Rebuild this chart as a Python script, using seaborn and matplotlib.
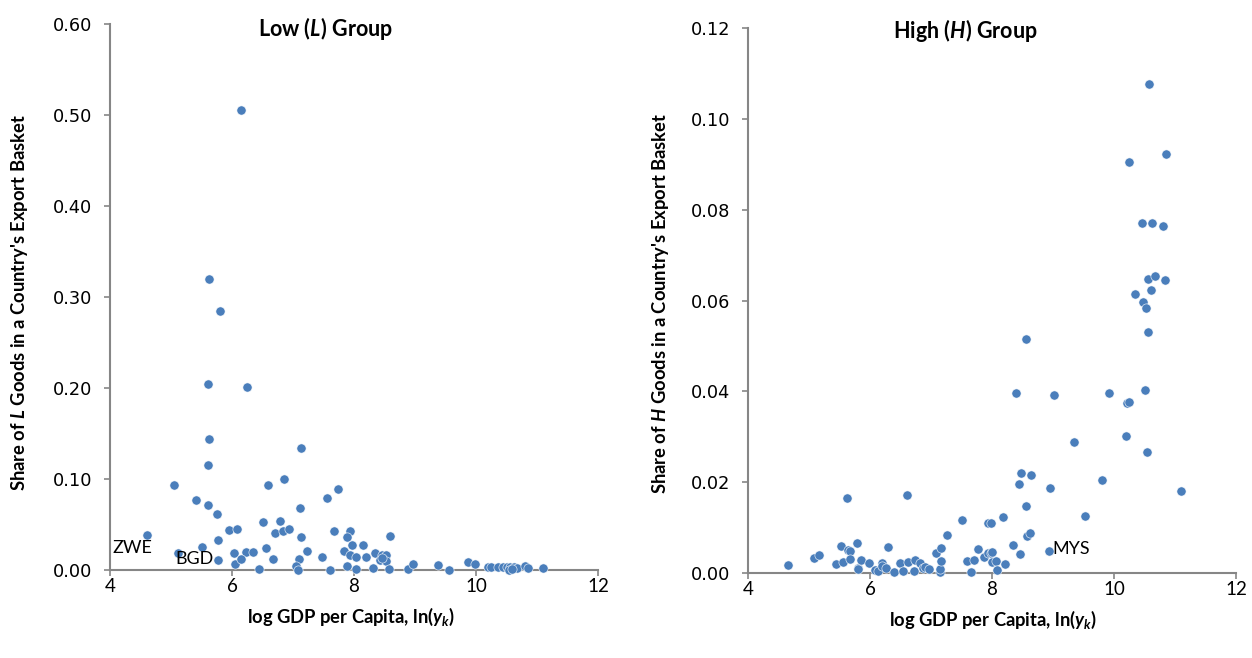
import matplotlib
matplotlib.use("Agg")
import matplotlib.pyplot as plt
import seaborn as sns

# Low (L) group: log GDP per capita vs share of L goods
low_gdp = [6.15, 5.63, 5.81, 5.60, 6.25, 5.63, 5.60, 7.13, 5.05, 6.59,
           6.85, 5.41, 5.60, 5.75, 7.55, 7.73, 7.11, 4.61, 6.50, 6.79,
           5.95, 6.09, 6.70, 6.83, 6.93, 7.67, 7.93, 7.89, 8.59, 5.77,
           7.13, 5.50, 5.11, 6.03, 6.23, 6.35, 6.56, 7.23, 7.84, 7.96,
           8.14, 7.93, 8.03, 8.19, 8.35, 8.46, 8.52, 8.43, 8.52, 8.46,
           5.77, 6.05, 6.15, 6.68, 7.10, 7.47, 6.45, 7.05, 7.09, 7.61,
           7.89, 8.04, 8.31, 8.58, 8.89, 8.97, 9.37, 9.56, 9.87, 9.98,
           10.19, 10.24, 10.36, 10.45, 10.51, 10.56, 10.62, 10.67, 10.54, 10.59,
           10.81, 10.85, 11.10]
low_share = [0.505, 0.320, 0.285, 0.204, 0.201, 0.144, 0.115, 0.134, 0.093, 0.093,
             0.100, 0.077, 0.071, 0.062, 0.079, 0.089, 0.068, 0.039, 0.053, 0.054,
             0.044, 0.045, 0.041, 0.043, 0.045, 0.043, 0.043, 0.036, 0.037, 0.033,
             0.036, 0.025, 0.019, 0.019, 0.020, 0.020, 0.024, 0.021, 0.021, 0.027,
             0.027, 0.017, 0.014, 0.014, 0.019, 0.016, 0.017, 0.011, 0.010, 0.013,
             0.011, 0.007, 0.012, 0.012, 0.012, 0.014, 0.001, 0.004, 0.000, 0.000,
             0.004, 0.001, 0.002, 0.001, 0.001, 0.007, 0.005, 0.000, 0.009, 0.007,
             0.003, 0.003, 0.003, 0.003, 0.003, 0.003, 0.003, 0.002, 0.000, 0.001,
             0.004, 0.002, 0.002]

# High (H) group: log GDP per capita vs share of H goods
high_gdp = [4.65, 5.08, 5.16, 5.52, 5.45, 5.55, 5.63, 5.64, 5.67, 5.68,
            5.79, 5.81, 5.81, 5.85, 5.99, 6.08, 6.13, 6.19, 6.20, 6.26,
            6.30, 6.39, 6.49, 6.54, 6.60, 6.63, 6.72, 6.74, 6.82, 6.87,
            6.90, 6.97, 7.14, 7.15, 7.09, 7.17, 7.16, 7.27, 7.51, 7.59,
            7.65, 7.70, 7.77, 7.87, 7.94, 7.98, 7.94, 7.98, 8.00, 8.00,
            8.07, 8.08, 8.18, 8.22, 8.35, 8.39, 8.48, 8.45, 8.46, 8.64,
            8.95, 9.81, 11.10, 8.55, 9.52, 8.57, 8.62, 8.93, 9.02, 9.91,
            10.21, 10.25, 10.50, 9.34, 10.19, 10.54, 10.57, 10.24, 10.85, 10.46,
            10.63, 10.81, 10.55, 10.67, 10.83, 10.35, 10.60, 10.47, 10.52, 10.56,
            8.55]
high_share = [0.0017, 0.0034, 0.0040, 0.0060, 0.0019, 0.0025, 0.0166, 0.0051, 0.0049, 0.0031,
              0.0065, 0.0012, 0.0008, 0.0028, 0.0021, 0.0006, 0.0004, 0.0023, 0.0016, 0.0010,
              0.0057, 0.0002, 0.0023, 0.0004, 0.0172, 0.0024, 0.0004, 0.0028, 0.0023, 0.0010,
              0.0014, 0.0008, 0.0003, 0.0008, 0.0043, 0.0056, 0.0026, 0.0084, 0.0117, 0.0027,
              0.0003, 0.0029, 0.0053, 0.0036, 0.0043, 0.0044, 0.0111, 0.0110, 0.0047, 0.0025,
              0.0027, 0.0007, 0.0123, 0.0019, 0.0062, 0.0396, 0.0220, 0.0195, 0.0041, 0.0216,
              0.0188, 0.0205, 0.0180, 0.0148, 0.0126, 0.0082, 0.0087, 0.0048, 0.0393, 0.0396,
              0.0374, 0.0376, 0.0402, 0.0288, 0.0301, 0.0266, 0.1077, 0.0905, 0.0922, 0.0771,
              0.0771, 0.0765, 0.0648, 0.0654, 0.0646, 0.0614, 0.0623, 0.0597, 0.0583, 0.0530,
              0.0516]

# labelled countries: (name, x, y)
low_labels = [("ZWE", 4.61, 0.039), ("BGD", 5.11, 0.019)]
high_labels = [("MYS", 8.93, 0.0048)]

sns.set_style("white")
plt.rcParams["font.family"] = ["DejaVu Sans"]
plt.rcParams["text.color"] = "black"
plt.rcParams["mathtext.fontset"] = "custom"
plt.rcParams["mathtext.it"] = "Lato:italic:bold"
plt.rcParams["mathtext.rm"] = "Lato:bold"
plt.rcParams["mathtext.bf"] = "Lato:bold"

DOT = "#4A7EBB"
AXIS = "#868686"

fig = plt.figure(figsize=(12.52, 6.58), dpi=100)
ax_l = fig.add_axes([110 / 1252, 1 - 570 / 658, 488 / 1252, 546 / 658])
ax_r = fig.add_axes([748 / 1252, 1 - 573 / 658, 488 / 1252, 545 / 658])


def style_axes(ax, ymax, ystep):
    ax.set_xlim(4, 12)
    ax.set_ylim(0, ymax)
    ax.set_xticks([4, 6, 8, 10, 12])
    n = int(round(ymax / ystep))
    ax.set_yticks([i * ystep for i in range(n + 1)])
    ax.set_yticklabels([f"{i * ystep:.2f}" for i in range(n + 1)],
                       fontsize=12.8, family="DejaVu Sans")
    ax.set_xticklabels(["4", "6", "8", "10", "12"], fontsize=13.5, family="Lato")
    for side in ["top", "right"]:
        ax.spines[side].set_visible(False)
    for side in ["left", "bottom"]:
        ax.spines[side].set_color(AXIS)
        ax.spines[side].set_linewidth(1.5)
    ax.tick_params(axis="both", direction="out", length=4, width=1.2,
                   color=AXIS, labelcolor="black", left=True, bottom=True)
    ax.tick_params(axis="y", pad=9)
    ax.tick_params(axis="x", pad=2)
    ax.set_xlabel("")
    ax.set_ylabel("")


sns.scatterplot(x=low_gdp, y=low_share, ax=ax_l, color=DOT, s=44,
                edgecolor="white", linewidth=0.4, clip_on=False, zorder=3)
sns.scatterplot(x=high_gdp, y=high_share, ax=ax_r, color=DOT, s=44,
                edgecolor="white", linewidth=0.4, clip_on=False, zorder=3)

style_axes(ax_l, 0.6, 0.1)
style_axes(ax_r, 0.12, 0.02)

# point labels
ax_l.annotate(low_labels[0][0], (low_labels[0][1], low_labels[0][2]),
              xytext=(5, -13), textcoords="offset pixels", ha="right",
              va="center", fontsize=13, family="Lato")
ax_l.annotate(low_labels[1][0], (low_labels[1][1], low_labels[1][2]),
              xytext=(-2, -6), textcoords="offset pixels", ha="left",
              va="center", fontsize=13, family="Lato")
ax_r.annotate(high_labels[0][0], (high_labels[0][1], high_labels[0][2]),
              xytext=(4, 2), textcoords="offset pixels", ha="left",
              va="center", fontsize=13, family="Lato")

# titles (placed like the original, a bit left of centre)
fig.text(325 / 1252, 1 - 29 / 658, r"Low ($\mathit{L}$) Group", ha="center",
         va="center", fontsize=15.5, fontweight="bold", family="Lato")
fig.text(965 / 1252, 1 - 31 / 658, r"High ($\mathit{H}$) Group", ha="center",
         va="center", fontsize=15.5, fontweight="bold", family="Lato")

# axis titles
fig.text(20 / 1252, 1 - 303 / 658,
         r"Share of $\mathit{L}$ Goods in a Country's Export Basket",
         rotation=90, ha="center", va="center", fontsize=13.2,
         fontweight="bold", family="Lato")
fig.text(661 / 1252, 1 - 303 / 658,
         r"Share of $\mathit{H}$ Goods in a Country's Export Basket",
         rotation=90, ha="center", va="center", fontsize=13.2,
         fontweight="bold", family="Lato")
fig.text(351 / 1252, 1 - 617 / 658, r"log GDP per Capita, ln($\mathit{y_k}$)",
         ha="center", va="center", fontsize=13.2, fontweight="bold", family="Lato")
fig.text(993 / 1252, 1 - 620 / 658, r"log GDP per Capita, ln($\mathit{y_k}$)",
         ha="center", va="center", fontsize=13.2, fontweight="bold", family="Lato")

fig.savefig("out.png", dpi=100)
plt.close(fig)
